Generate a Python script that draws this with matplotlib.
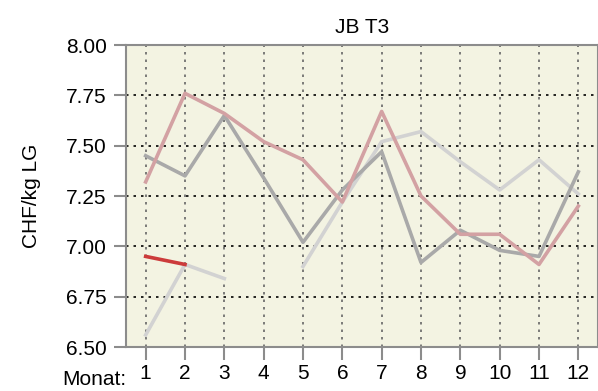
import numpy as np
import matplotlib.pyplot as plt
import matplotlib.transforms as mtransforms

plt.rcParams['font.family'] = ['Liberation Sans', 'DejaVu Sans']

# Monate und Preise (CHF/kg LG)
monate = list(range(1, 13))
jahr_alt = [6.56, 6.91, 6.84, np.nan, 6.90, 7.22, 7.52, 7.57, 7.42, 7.28, 7.43, 7.26]
jahr_mittel = [7.45, 7.35, 7.65, 7.34, 7.02, 7.28, 7.47, 6.92, 7.08, 6.98, 6.95, 7.37]
jahr_vorher = [7.32, 7.76, 7.66, 7.52, 7.43, 7.22, 7.67, 7.25, 7.06, 7.06, 6.91, 7.20]
jahr_aktuell = [6.95, 6.91]

y_ticks = [6.50, 6.75, 7.00, 7.25, 7.50, 7.75, 8.00]

fig = plt.figure(figsize=(5.98, 3.91), dpi=100)
ax = fig.add_axes([0.2107, 0.1125, 0.7893, 0.7724])
ax.set_facecolor('#f3f3e2')

ax.plot(monate, jahr_alt, color='#d2d2d2', lw=2.6, zorder=3)
ax.plot(monate, jahr_mittel, color='#a9a9a9', lw=2.6, zorder=4)
ax.plot(monate, jahr_vorher, color='#d3a1a3', lw=2.6, zorder=5)
ax.plot(monate[:len(jahr_aktuell)], jahr_aktuell, color='#cc3b3b', lw=2.6, zorder=6)

ax.set_xlim(0.5, 12.5)
ax.set_ylim(6.5, 8.0)
ax.set_xticks(monate)
ax.set_yticks(y_ticks)
ax.set_yticklabels([f'{v:.2f}' for v in y_ticks])

# Gitterlinien
for m in monate:
    ax.axvline(m, color='#666666', ls=(0, (1.5, 3)), lw=1.2, zorder=1)
for v in y_ticks[1:-1]:
    ax.axhline(v, color='black', ls=(0, (1.5, 3)), lw=1.2, zorder=1)

for s in ax.spines.values():
    s.set_color('#8c8c8c')
    s.set_linewidth(1.5)
ax.tick_params(axis='both', colors='#8c8c8c', width=1.5, length=9, labelsize=15,
               labelcolor='black')
ax.tick_params(axis='y', pad=5)
ax.tick_params(axis='x', pad=3)

ax.set_ylabel('CHF/kg LG', fontsize=15, labelpad=18)
ax.set_title('JB T3', fontsize=15, pad=9)

trans = mtransforms.blended_transform_factory(ax.transData, ax.transAxes)
ax.text(0.5, -0.107, 'Monat:', transform=trans, ha='right', va='center', fontsize=15)

fig.savefig('out.png', dpi=100)
